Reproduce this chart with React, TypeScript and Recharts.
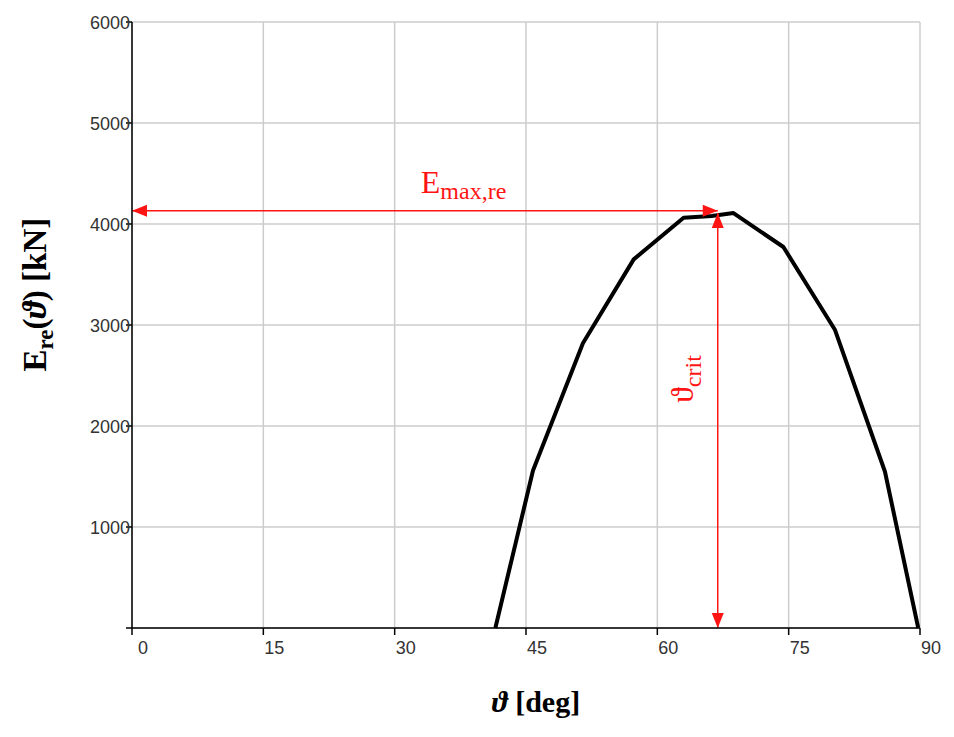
import { LineChart, Line, XAxis, YAxis, CartesianGrid, ReferenceLine, Label } from 'recharts'

// curve: angle [deg] -> E_re [kN]
const thetaDeg = [41.5, 45.8, 51.5, 57.3, 63.0, 66.2, 68.7, 74.4, 80.3, 86.0, 89.8]
const eRe = [0, 1560, 2820, 3650, 4062, 4080, 4108, 3772, 2950, 1547, 0]

const xTicks = [0, 15, 30, 45, 60, 75, 90]
const yTicks = [0, 1000, 2000, 3000, 4000, 5000, 6000]

// annotation values
const eMaxRe = 4130
const eMaxPeak = 4108
const thetaCrit = 66.9

const data = thetaDeg.map((deg, i) => ({ deg, e: eRe[i] }))

const RED = '#ff1414'
const SERIF = '"Liberation Serif", "Times New Roman", serif'
const SANS = '"Liberation Sans", Arial, sans-serif'

function arrowHead(tx: number, ty: number, fx: number, fy: number, len = 15, half = 6) {
  const dx = tx - fx
  const dy = ty - fy
  const d = Math.hypot(dx, dy) || 1
  const ux = dx / d
  const uy = dy / d
  const bx = tx - ux * len
  const by = ty - uy * len
  return `${tx},${ty} ${bx - uy * half},${by + ux * half} ${bx + uy * half},${by - ux * half}`
}

const DoubleArrow = (p: any) => {
  const { x1, y1, x2, y2 } = p
  return (
    <g>
      <line x1={x1} y1={y1} x2={x2} y2={y2} stroke={RED} strokeWidth={1.5} />
      <polygon points={arrowHead(x1, y1, x2, y2)} fill={RED} />
      <polygon points={arrowHead(x2, y2, x1, y1)} fill={RED} />
    </g>
  )
}

const XTick = ({ x, y, payload }: any) => (
  <text x={x + 11} y={y + 17} textAnchor="middle" fontFamily={SANS} fontSize={18} fill="#333">
    {payload.value}
  </text>
)

const YTick = ({ x, y, payload }: any) =>
  payload.value === 0 ? (
    <g />
  ) : (
    <text x={x + 6} y={y + 6.5} textAnchor="end" fontFamily={SANS} fontSize={18} fill="#333">
      {payload.value}
    </text>
  )

const EmaxLabel = (props: any) => {
  const vb = props.viewBox
  const x = vb.x + vb.width * 0.493
  const y = vb.y - 18
  return (
    <text x={x} y={y} fontFamily={SERIF} fill={RED} fontSize={32}>
      E
      <tspan fontSize={24} dy={6}>max,re</tspan>
    </text>
  )
}

const CritLabel = (props: any) => {
  const vb = props.viewBox
  const x = vb.x - 25
  const y = vb.y + vb.height * 0.4
  return (
    <text x={x} y={y} transform={`rotate(-90, ${x}, ${y})`} textAnchor="middle" fontFamily={SERIF} fill={RED} fontSize={32}>
      ϑ
      <tspan fontSize={24} dy={8}>crit</tspan>
    </text>
  )
}

const YTitle = (props: any) => {
  const vb = props.viewBox
  const x = 46
  const y = vb.y + vb.height * 0.45
  return (
    <text x={x} y={y} transform={`rotate(-90, ${x}, ${y})`} textAnchor="middle" fontFamily={SERIF} fontWeight="bold" fontSize={33} fill="#000">
      E
      <tspan fontSize={23} dy={7}>re</tspan>
      <tspan dy={-7}>(</tspan>
      <tspan fontStyle="italic">ϑ</tspan>
      <tspan>) [kN]</tspan>
    </text>
  )
}

const XTitle = (props: any) => {
  const vb = props.viewBox
  const x = vb.x + vb.width / 2 + 10
  const y = vb.y + 84
  return (
    <text x={x} y={y} textAnchor="middle" fontFamily={SERIF} fontWeight="bold" fontSize={30} fill="#000">
      <tspan fontStyle="italic">ϑ</tspan>
      <tspan> [deg]</tspan>
    </text>
  )
}

export default function App() {
  return (
    <div style={{ position: 'absolute', left: 0, top: 0, width: 954, height: 737, background: '#fff' }}>
      <LineChart width={954} height={737} data={data} margin={{ top: 22, right: 34, left: 72, bottom: 79 }}>
        <CartesianGrid stroke="#cccccc" strokeWidth={1.5} />
        <XAxis
          type="number"
          dataKey="deg"
          domain={[0, 90]}
          ticks={xTicks}
          tick={<XTick />}
          tickSize={7}
          height={30}
          axisLine={{ stroke: '#000', strokeWidth: 1.5 }}
          tickLine={{ stroke: '#000', strokeWidth: 1.5 }}
          interval={0}
        >
          <Label content={<XTitle />} />
        </XAxis>
        <YAxis
          type="number"
          domain={[0, 6000]}
          ticks={yTicks}
          tick={<YTick />}
          tickSize={6}
          width={60}
          axisLine={{ stroke: '#000', strokeWidth: 1.5 }}
          tickLine={{ stroke: '#000', strokeWidth: 1.5 }}
          interval={0}
        >
          <Label content={<YTitle />} />
        </YAxis>
        <Line
          type="linear"
          dataKey="e"
          stroke="#000"
          strokeWidth={4}
          strokeLinejoin="round"
          dot={false}
          activeDot={false}
          isAnimationActive={false}
        />
        <ReferenceLine
          segment={[{ x: 0, y: eMaxRe }, { x: thetaCrit, y: eMaxRe }]}
          ifOverflow="visible"
          shape={DoubleArrow}
          label={<Label content={<EmaxLabel />} />}
        />
        <ReferenceLine
          segment={[{ x: thetaCrit, y: 0 }, { x: thetaCrit, y: eMaxPeak }]}
          ifOverflow="visible"
          shape={DoubleArrow}
          label={<Label content={<CritLabel />} />}
        />
      </LineChart>
    </div>
  )
}
